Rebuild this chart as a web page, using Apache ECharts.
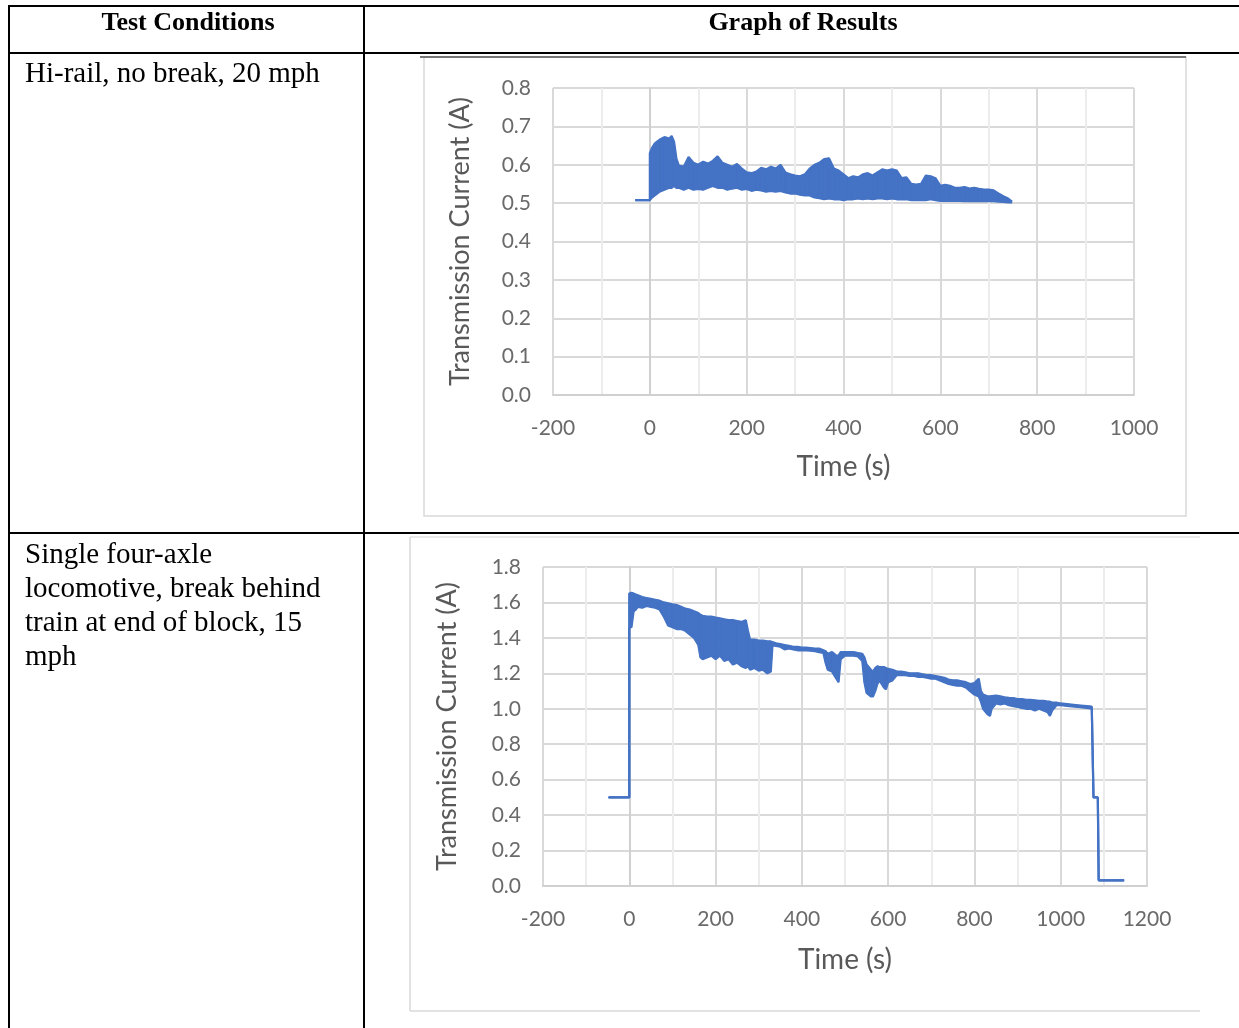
<!DOCTYPE html>
<html>
<head>
<meta charset="utf-8">
<script src="https://cdn.jsdelivr.net/npm/echarts@6/dist/echarts.min.js"></script>
<style>
html,body{margin:0;padding:0;background:#fff;}
#c{width:1239px;height:1028px;}
</style>
</head>
<body>
<div id="c"></div>
<script>
// ---------- Table text ----------
const HEADERS = ['Test Conditions', 'Graph of Results'];
const CONDITIONS = [
  'Hi-rail, no break, 20 mph',
  'Single four-axle\nlocomotive, break behind\ntrain at end of block, 15\nmph'
];
const X_NAME = 'Time (s)';
const Y_NAME = 'Transmission Current (A)';

// ---------- Chart 1: Hi-rail (upper / lower envelope of the noisy trace) ----------
const T1 = [-30, 0, 0, 5, 10, 15, 20, 30, 40, 45, 50, 55, 60, 70, 80, 90, 100, 110, 120, 130, 140, 150, 160, 170, 180, 190,
  200, 210, 220, 230, 240, 250, 260, 270, 280, 290, 300, 310, 320, 330, 340, 350, 360, 370, 380, 390,
  400, 410, 420, 430, 440, 450, 460, 470, 480, 490, 500, 510, 520, 530, 540, 550, 560, 570, 580, 590,
  600, 610, 620, 630, 640, 650, 660, 670, 680, 690, 700, 710, 720, 730, 740, 748];
const HI1 = [0.508, 0.508, 0.63, 0.645, 0.655, 0.66, 0.665, 0.672, 0.668, 0.675, 0.66, 0.615, 0.598, 0.595, 0.62, 0.605, 0.6, 0.608, 0.603, 0.61, 0.622, 0.605, 0.6, 0.595, 0.602, 0.59,
  0.58, 0.578, 0.582, 0.592, 0.588, 0.595, 0.59, 0.6, 0.58, 0.575, 0.572, 0.57, 0.575, 0.59, 0.6, 0.605, 0.615, 0.617, 0.59, 0.585,
  0.575, 0.565, 0.57, 0.567, 0.575, 0.578, 0.572, 0.58, 0.588, 0.585, 0.588, 0.585, 0.565, 0.567, 0.55, 0.548, 0.55, 0.572, 0.57, 0.565,
  0.545, 0.548, 0.545, 0.54, 0.54, 0.542, 0.538, 0.54, 0.537, 0.535, 0.535, 0.533, 0.525, 0.518, 0.512, 0.504];
const LO1 = [0.508, 0.508, 0.51, 0.515, 0.52, 0.525, 0.53, 0.535, 0.54, 0.54, 0.545, 0.54, 0.54, 0.535, 0.54, 0.535, 0.537, 0.535, 0.54, 0.545, 0.54, 0.54, 0.535, 0.538, 0.54, 0.535,
  0.537, 0.532, 0.535, 0.533, 0.53, 0.532, 0.53, 0.532, 0.528, 0.525, 0.525, 0.522, 0.52, 0.52, 0.515, 0.513, 0.51, 0.512, 0.51, 0.51,
  0.508, 0.51, 0.51, 0.512, 0.51, 0.512, 0.51, 0.512, 0.512, 0.51, 0.512, 0.51, 0.51, 0.51, 0.508, 0.508, 0.508, 0.508, 0.51, 0.508,
  0.506, 0.506, 0.506, 0.506, 0.506, 0.505, 0.506, 0.505, 0.505, 0.505, 0.506, 0.505, 0.504, 0.503, 0.502, 0.502];

// ---------- Chart 2: four-axle locomotive ----------
const T2 = [-48, 0, 0, 5, 10, 15, 20, 30, 40, 50, 60, 70, 80, 90, 100, 110, 120, 130, 140, 150, 160, 165, 170, 180, 190,
  200, 210, 220, 230, 240, 250, 260, 270, 275, 280, 290, 300, 310, 320, 328, 332, 340, 350, 360, 370, 380, 390,
  400, 410, 420, 430, 440, 450, 455, 460, 470, 480, 485, 490, 500, 510, 520, 530, 540, 545, 550, 560, 565, 570, 575, 580, 590, 595,
  600, 610, 620, 630, 640, 650, 660, 670, 680, 690, 700, 710, 720, 730, 740, 750, 760, 770, 780, 790,
  800, 810, 815, 820, 830, 836, 840, 850, 860, 870, 880, 890, 900, 910, 920, 930, 940, 950, 960, 970, 975, 980, 990,
  1000, 1020, 1040, 1060, 1072, 1076, 1086, 1088, 1147];
const HI2 = [0.5, 0.5, 1.65, 1.655, 1.65, 1.645, 1.64, 1.63, 1.625, 1.62, 1.615, 1.61, 1.6, 1.595, 1.59, 1.585, 1.575, 1.565, 1.56, 1.55, 1.54, 1.53, 1.525, 1.52, 1.52,
  1.515, 1.51, 1.505, 1.5, 1.5, 1.495, 1.49, 1.5, 1.44, 1.39, 1.39, 1.385, 1.385, 1.38, 1.38, 1.375, 1.37, 1.365, 1.36, 1.355, 1.35, 1.35,
  1.345, 1.345, 1.343, 1.34, 1.34, 1.33, 1.325, 1.31, 1.32, 1.3, 1.3, 1.32, 1.32, 1.32, 1.32, 1.315, 1.31, 1.29, 1.25, 1.22, 1.21, 1.23, 1.24, 1.235, 1.235, 1.23,
  1.225, 1.22, 1.21, 1.21, 1.205, 1.2, 1.2, 1.2, 1.195, 1.19, 1.19, 1.185, 1.18, 1.175, 1.165, 1.16, 1.16, 1.155, 1.15, 1.14,
  1.145, 1.17, 1.1, 1.08, 1.07, 1.07, 1.07, 1.075, 1.07, 1.065, 1.062, 1.06, 1.055, 1.055, 1.05, 1.05, 1.048, 1.045, 1.045, 1.04, 1.04, 1.035, 1.035,
  1.03, 1.025, 1.02, 1.015, 1.012, 0.5, 0.5, 0.032, 0.032];
const LO2 = [0.5, 0.5, 1.46, 1.46, 1.55, 1.56, 1.575, 1.57, 1.58, 1.575, 1.57, 1.56, 1.52, 1.47, 1.46, 1.45, 1.45, 1.44, 1.42, 1.4, 1.36, 1.29, 1.28, 1.29, 1.3,
  1.28, 1.3, 1.27, 1.28, 1.25, 1.26, 1.24, 1.23, 1.24, 1.22, 1.23, 1.215, 1.22, 1.2, 1.21, 1.36, 1.355, 1.35, 1.335, 1.34, 1.335, 1.33,
  1.33, 1.33, 1.328, 1.325, 1.32, 1.315, 1.26, 1.22, 1.21, 1.17, 1.15, 1.28, 1.3, 1.3, 1.3, 1.295, 1.27, 1.15, 1.09, 1.07, 1.07, 1.1, 1.14, 1.16, 1.12, 1.11,
  1.15, 1.16, 1.19, 1.19, 1.19, 1.185, 1.185, 1.18, 1.18, 1.175, 1.17, 1.17, 1.16, 1.15, 1.14, 1.135, 1.13, 1.13, 1.12, 1.1,
  1.08, 1.07, 1.04, 1.0, 0.97, 0.96, 1.0, 1.03, 1.025, 1.03, 1.02, 1.015, 1.01, 1.005, 1.0, 1.0, 0.99, 1.0, 0.99, 0.98, 0.96, 0.99, 1.02,
  1.02, 1.015, 1.01, 1.005, 1.0, 0.5, 0.5, 0.032, 0.032];

// ---------- Axis ranges / ticks ----------
const X1_RANGE = [-200, 1000], Y1_RANGE = [0, 0.8];
const X2_RANGE = [-200, 1200], Y2_RANGE = [0, 1.8];
const X_STEP = 200, Y1_STEP = 0.1, Y2_STEP = 0.2;

const BLUE = '#4472C4';
const TICK_FONT = 'Lato, "Open Sans", sans-serif';

function pts(t, v) { return t.map((x, i) => [x, v[i]]); }
function segs(t, hi, lo) {
  return t.slice(0, -1).map((x, i) => [x, hi[i], lo[i], t[i + 1], hi[i + 1], lo[i + 1]]);
}

function xAxis(idx, range, gap) {
  return {
    type: 'value', gridIndex: idx, min: range[0], max: range[1], interval: X_STEP,
    name: X_NAME, nameLocation: 'middle', nameGap: gap,
    nameTextStyle: { fontFamily: TICK_FONT, fontSize: 28, color: '#595959' },
    axisLine: { show: true, lineStyle: { color: '#d0d0d0', width: 2 } },
    axisTick: { show: false },
    axisLabel: { margin: 23, fontFamily: TICK_FONT, fontSize: 21, color: '#6a6a6a',
      formatter: v => String(v) },
    splitLine: { show: true, lineStyle: { color: '#d9d9d9', width: 2 } },
    minorTick: { show: false, splitNumber: 2 },
    minorSplitLine: { show: true, lineStyle: { color: '#ececec', width: 2 } }
  };
}
function yAxis(idx, range, step, gap) {
  return {
    type: 'value', gridIndex: idx, min: range[0], max: range[1], interval: step,
    name: Y_NAME, nameLocation: 'middle', nameGap: gap, nameRotate: 90,
    nameTextStyle: { fontFamily: TICK_FONT, fontSize: 27, color: '#595959' },
    axisLine: { show: true, lineStyle: { color: '#d0d0d0', width: 2 } },
    axisTick: { show: false },
    axisLabel: { margin: 22, fontFamily: TICK_FONT, fontSize: 21, color: '#6a6a6a',
      formatter: v => v.toFixed(1) },
    splitLine: { show: true, lineStyle: { color: '#d9d9d9', width: 2 } }
  };
}
function bandSeries(idx, t, hi, lo) {
  return [
    { type: 'custom', xAxisIndex: idx, yAxisIndex: idx, data: segs(t, hi, lo), silent: true, z: 3,
      encode: { x: [0, 3], y: [1, 2, 4, 5] },
      renderItem: (params, api) => {
        const p = [
          api.coord([api.value(0), api.value(2)]),
          api.coord([api.value(0), api.value(1)]),
          api.coord([api.value(3), api.value(4)]),
          api.coord([api.value(3), api.value(5)])
        ];
        return { type: 'polygon', shape: { points: p }, style: { fill: BLUE, stroke: BLUE, lineWidth: 1 } };
      } },
    { type: 'line', xAxisIndex: idx, yAxisIndex: idx, data: pts(t, hi),
      showSymbol: false, symbol: 'none', silent: true, lineStyle: { width: 2.2, color: BLUE }, z: 4 },
    { type: 'line', xAxisIndex: idx, yAxisIndex: idx, data: pts(t, lo),
      showSymbol: false, symbol: 'none', silent: true, lineStyle: { width: 2.2, color: BLUE }, z: 4 }
  ];
}

function line(x1, y1, x2, y2, stroke, w) {
  return { type: 'line', shape: { x1, y1, x2, y2 }, style: { stroke, lineWidth: w }, z: 1 };
}
function txt(text, x, y, size, weight, align, valign, lh) {
  return { type: 'text', z: 5, style: { text, x, y, fill: '#000', fontSize: size, fontWeight: weight,
    fontFamily: '"Liberation Serif", "Times New Roman", serif', align, verticalAlign: valign,
    textAlign: align, textVerticalAlign: valign, lineHeight: lh || size } };
}

const chart = echarts.init(document.getElementById('c'), null, { renderer: 'canvas' });
chart.setOption({
  animation: false,
  backgroundColor: '#fff',
  grid: [
    { left: 553, top: 88, width: 581, height: 307 },
    { left: 543, top: 567, width: 604, height: 319 }
  ],
  xAxis: [xAxis(0, X1_RANGE, 58), xAxis(1, X2_RANGE, 60)],
  yAxis: [yAxis(0, Y1_RANGE, Y1_STEP, 79), yAxis(1, Y2_RANGE, Y2_STEP, 82)],
  series: [...bandSeries(0, T1, HI1, LO1), ...bandSeries(1, T2, HI2, LO2)],
  graphic: [
    // chart boxes
    { type: 'rect', shape: { x: 424, y: 57, width: 762, height: 459 }, style: { fill: 'none', stroke: '#d9d9d9', lineWidth: 1.5 }, z: 0 },
    line(420, 57, 1186, 57, '#777', 2),
    line(410, 537, 410, 1011, '#d9d9d9', 1.5),
    line(410, 537, 1200, 537, '#e3e3e3', 1.5),
    line(410, 1011, 1200, 1011, '#d9d9d9', 1.5),
    // table rules
    line(9, 6, 1239, 6, '#000', 2),
    line(9, 53, 1239, 53, '#000', 2),
    line(9, 533, 1239, 533, '#000', 2),
    line(9, 5, 9, 1028, '#000', 2),
    line(364, 5, 364, 1028, '#000', 2),
    // table text
    txt(HEADERS[0], 188, 23, 26, 'bold', 'center', 'middle'),
    txt(HEADERS[1], 803, 23, 26, 'bold', 'center', 'middle'),
    txt(CONDITIONS[0], 25, 74, 29, 'normal', 'left', 'middle'),
    txt(CONDITIONS[1], 25, 538, 29, 'normal', 'left', 'top', 34)
  ]
});
</script>
</body>
</html>
